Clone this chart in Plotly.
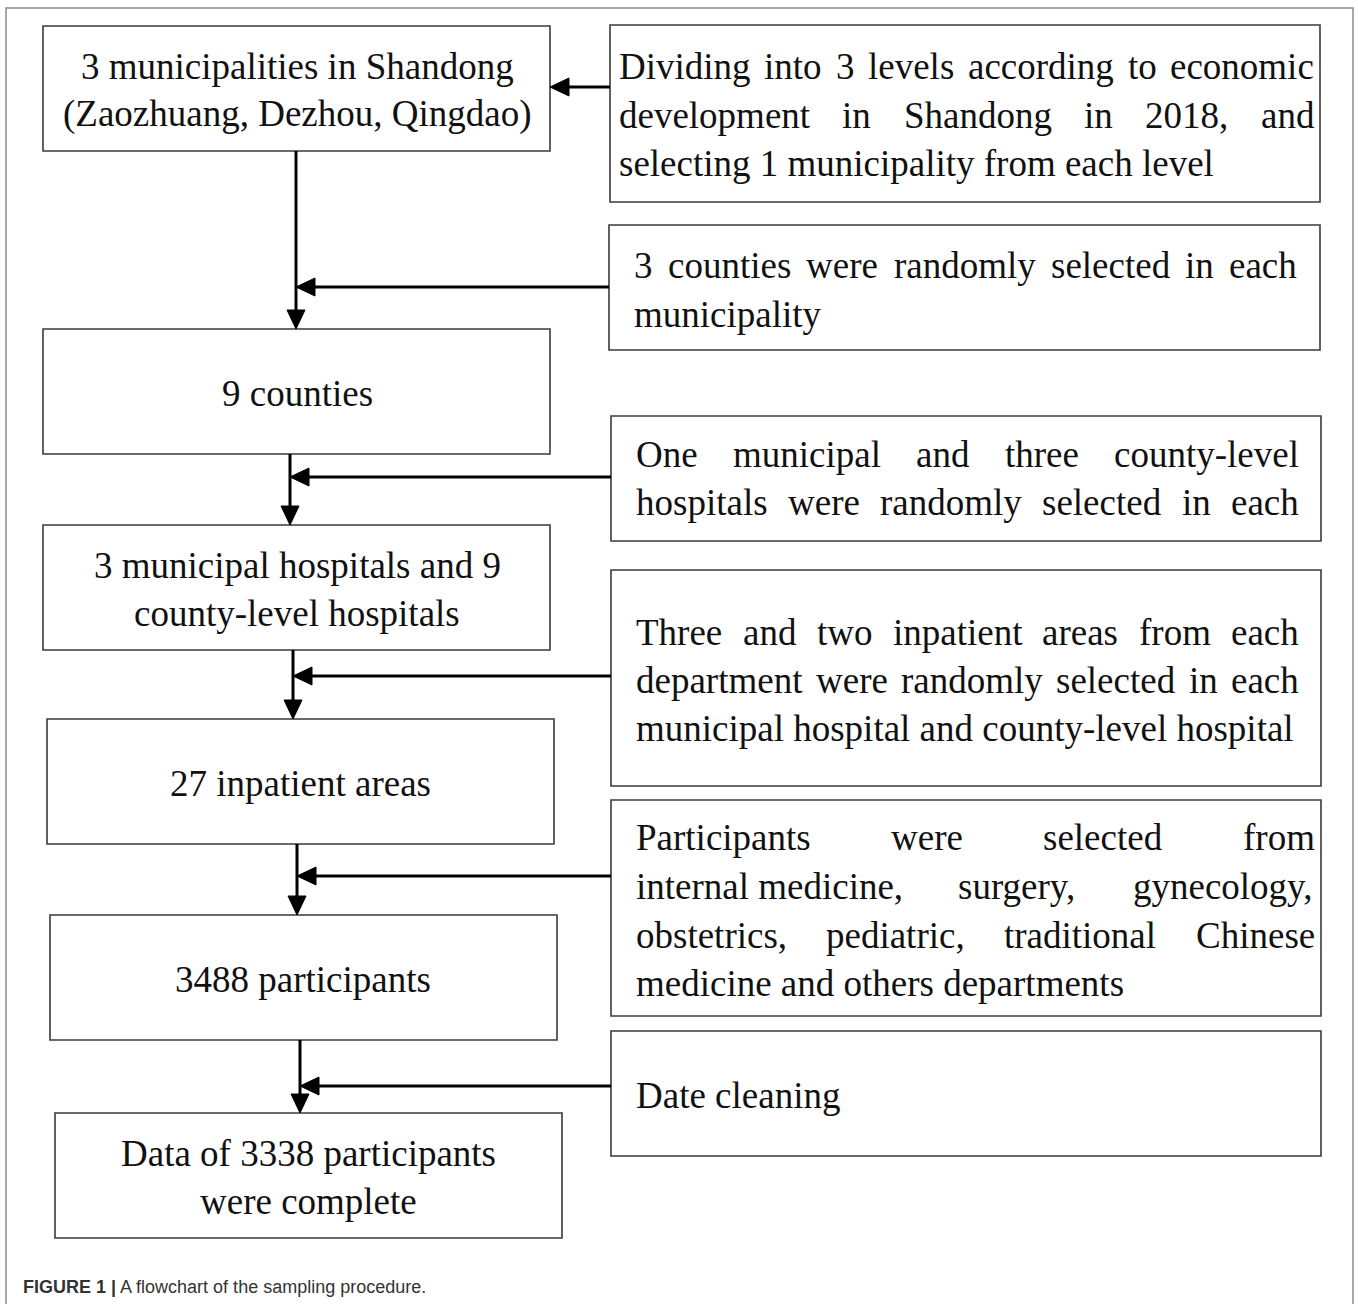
import plotly.graph_objects as go

# ---------------- content ----------------
LEFT_TEXT = [
    ["3 municipalities in Shandong", "(Zaozhuang, Dezhou, Qingdao)"],
    ["9 counties"],
    ["3 municipal hospitals and 9", "county-level hospitals"],
    ["27 inpatient areas"],
    ["3488 participants"],
    ["Data of 3338 participants", "were complete"],
]

# each line: list of words; last line of each paragraph is left-aligned
RIGHT_LINES = [
    [["Dividing", "into", "3", "levels", "according", "to", "economic"],
     ["development", "in", "Shandong", "in", "2018,", "and"],
     ["selecting 1 municipality from each level"]],
    [["3", "counties", "were", "randomly", "selected", "in", "each"],
     ["municipality"]],
    [["One", "municipal", "and", "three", "county-level"],
     ["hospitals", "were", "randomly", "selected", "in", "each"]],
    [["Three", "and", "two", "inpatient", "areas", "from", "each"],
     ["department", "were", "randomly", "selected", "in", "each"],
     ["municipal hospital and county-level hospital"]],
    [["Participants", "were", "selected", "from"],
     ["internal medicine,", "surgery,", "gynecology,"],
     ["obstetrics,", "pediatric,", "traditional", "Chinese"],
     ["medicine and others departments"]],
    [["Date cleaning"]],
]
RIGHT_JUSTIFY = [[True, True, False], [True, False], [True, True],
                 [True, True, False], [True, True, True, False], [False]]

CAPTION_BOLD = "FIGURE 1 |"
CAPTION_TEXT = "A flowchart of the sampling procedure."

# ---------------- layout geometry (pixels) ----------------
W, H = 1358, 1304
LEFT_BOX = [(43, 26, 550, 151), (43, 329, 550, 454), (43, 525, 550, 650),
            (47, 719, 554, 844), (50, 915, 557, 1040), (55, 1113, 562, 1238)]
LEFT_TEXT_CX = [297, 297, 297, 300, 303, 308]
LEFT_TEXT_Y = [[66, 114], [393], [565, 613], [783], [979], [1153, 1201]]

RIGHT_BOX = [(610, 25, 1320, 202), (609, 225, 1320, 350), (611, 416, 1321, 541),
             (611, 570, 1321, 786), (611, 800, 1321, 1016), (611, 1031, 1321, 1156)]
RIGHT_TEXT_LR = [(617, 1312), (632, 1295), (634, 1297), (634, 1297), (634, 1313), (634, 1297)]
RIGHT_LINE_Y = [[66, 115, 163], [265, 314], [454, 502], [632, 680, 728],
                [837, 886, 935, 983], [1095]]
VERT_X = [296, 290, 293, 297, 300]          # vertical connector x between left boxes
HORIZ_Y = [87, 287, 477, 676, 876, 1086]    # horizontal arrows from right boxes

SERIF = "Liberation Serif, Times New Roman, serif"
FS = 37
TXT = "#111111"
BOX_LINE = dict(color="#3a3a3a", width=1.6)
ARROW = "#000000"
HEAD_L, HEAD_W = 19, 18

# Times New Roman / Liberation Serif advance widths (1/1000 em) for text layout
_TW = {" ": 250, ",": 250, "-": 333, ".": 250, "(": 333, ")": 333}
_TW.update({d: 500 for d in "0123456789"})
_TW.update(dict(zip("abcdefghijklmnopqrstuvwxyz",
                    [444, 500, 444, 500, 444, 333, 500, 500, 278, 278, 500, 278, 778,
                     500, 500, 500, 500, 333, 389, 278, 500, 500, 722, 500, 500, 444])))
_TW.update(dict(zip("ABCDEFGHIJKLMNOPQRSTUVWXYZ",
                    [722, 667, 667, 722, 611, 556, 722, 722, 333, 389, 722, 611, 889,
                     722, 722, 556, 722, 667, 556, 611, 722, 722, 944, 722, 722, 611])))


def text_w(s):
    return sum(_TW.get(c, 500) for c in s) * FS / 1000.0


fig = go.Figure()
shapes = []
annotations = []

# outer frame
shapes.append(dict(type="rect", x0=6, y0=8, x1=1353, y1=1330,
                   line=dict(color="#8c8c8c", width=1.5), fillcolor="rgba(0,0,0,0)"))

for (x0, y0, x1, y1) in LEFT_BOX + RIGHT_BOX:
    shapes.append(dict(type="rect", x0=x0, y0=y0, x1=x1, y1=y1, line=BOX_LINE,
                       fillcolor="white", layer="below"))


def head_left(tx, ty):
    return (f"M {tx} {ty} L {tx + HEAD_L} {ty - HEAD_W / 2} "
            f"L {tx + HEAD_L} {ty + HEAD_W / 2} Z")


def head_down(tx, ty):
    return (f"M {tx} {ty} L {tx - HEAD_W / 2} {ty - HEAD_L} "
            f"L {tx + HEAD_W / 2} {ty - HEAD_L} Z")


def line(x0, y0, x1, y1):
    shapes.append(dict(type="line", x0=x0, y0=y0, x1=x1, y1=y1,
                       line=dict(color=ARROW, width=3)))


def tri(path):
    shapes.append(dict(type="path", path=path, fillcolor=ARROW,
                       line=dict(color=ARROW, width=1)))


# vertical connectors between left boxes
for i, vx in enumerate(VERT_X):
    top = LEFT_BOX[i][3]
    bot = LEFT_BOX[i + 1][1]
    line(vx, top, vx, bot - HEAD_L + 2)
    tri(head_down(vx, bot))

# horizontal arrows from right boxes
for i, hy in enumerate(HORIZ_Y):
    start = RIGHT_BOX[i][0]
    tip = LEFT_BOX[0][2] if i == 0 else VERT_X[i - 1]
    line(start, hy, tip + HEAD_L - 2, hy)
    tri(head_left(tip, hy))

font = dict(family=SERIF, size=FS, color=TXT)

# left box texts
for lines, cx, ys in zip(LEFT_TEXT, LEFT_TEXT_CX, LEFT_TEXT_Y):
    for t, y in zip(lines, ys):
        annotations.append(dict(x=cx, y=y, text=t, showarrow=False, xanchor="center",
                                yanchor="middle", font=font))

# right box texts (justified word by word)
for box_lines, just, (lx, rx), ys in zip(RIGHT_LINES, RIGHT_JUSTIFY, RIGHT_TEXT_LR, RIGHT_LINE_Y):
    for words, j, y in zip(box_lines, just, ys):
        if j and len(words) > 1:
            widths = [text_w(w) for w in words]
            gap = (rx - lx - sum(widths)) / (len(words) - 1)
            x = lx
            for w, wd in zip(words, widths):
                annotations.append(dict(x=x, y=y, text=w, showarrow=False, xanchor="left",
                                        yanchor="middle", font=font))
                x += wd + gap
        else:
            annotations.append(dict(x=lx, y=y, text=" ".join(words), showarrow=False,
                                    xanchor="left", yanchor="middle", font=font))

# caption
annotations.append(dict(x=21, y=1287, text=f"<b>{CAPTION_BOLD}</b> {CAPTION_TEXT}",
                        showarrow=False, xanchor="left", yanchor="middle",
                        font=dict(family="Liberation Sans Narrow, Arial Narrow, Liberation Sans, Arial, sans-serif",
                                  size=18, color="#333333")))

fig.update_layout(
    width=W, height=H,
    margin=dict(l=0, r=0, t=0, b=0),
    paper_bgcolor="white", plot_bgcolor="white",
    xaxis=dict(range=[0, W], visible=False, fixedrange=True),
    yaxis=dict(range=[H, 0], visible=False, fixedrange=True),
    shapes=shapes, annotations=annotations, showlegend=False,
)

fig.write_html("out.html", config={"displayModeBar": False},
               post_script="document.body.style.margin='0px';document.body.style.padding='0px';")
